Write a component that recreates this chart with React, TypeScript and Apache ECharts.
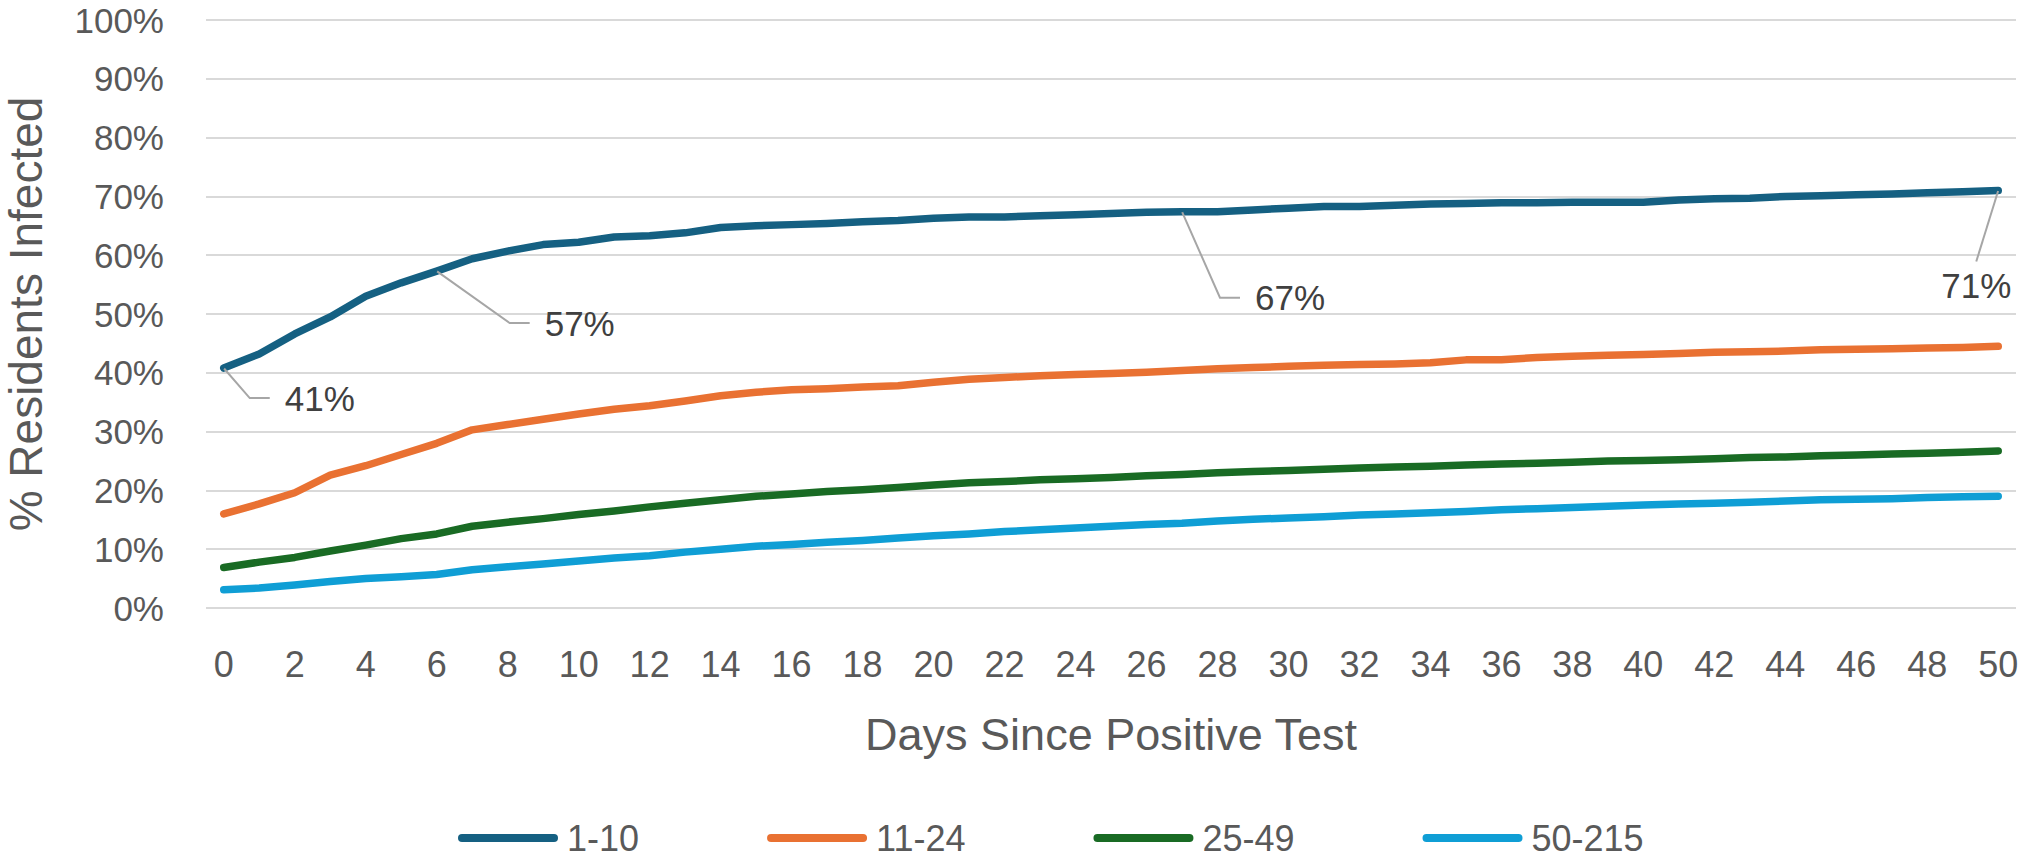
import { useEffect, useRef } from "react";
import * as echarts from "echarts";

const days = [
  "0", "1", "2", "3", "4", "5", "6", "7", "8", "9", "10", "11", "12", "13", "14", "15", "16",
  "17", "18", "19", "20", "21", "22", "23", "24", "25", "26", "27", "28", "29", "30", "31", "32",
  "33", "34", "35", "36", "37", "38", "39", "40", "41", "42", "43", "44", "45", "46", "47", "48",
  "49", "50",
];

const seriesNames = ["1-10", "11-24", "25-49", "50-215"];
const seriesColors = ["#156082", "#E97132", "#196B24", "#0F9ED5"];

const size1to10 = [
  40.8, 43.2, 46.6, 49.5, 53.0, 55.3, 57.3, 59.4, 60.7, 61.8, 62.2, 63.1, 63.3, 63.8, 64.7, 65.0,
  65.2, 65.4, 65.7, 65.9, 66.3, 66.5, 66.5, 66.7, 66.9, 67.1, 67.3, 67.4, 67.4, 67.7, 68.0, 68.3,
  68.3, 68.5, 68.7, 68.8, 68.9, 68.9, 69.0, 69.0, 69.0, 69.4, 69.6, 69.7, 70.0, 70.1, 70.3, 70.4,
  70.6, 70.8, 71.0,
];
const size11to24 = [
  16.0, 17.7, 19.6, 22.6, 24.2, 26.1, 28.0, 30.3, 31.2, 32.1, 33.0, 33.8, 34.4, 35.2, 36.1, 36.7,
  37.1, 37.3, 37.6, 37.8, 38.4, 38.9, 39.2, 39.5, 39.7, 39.9, 40.1, 40.4, 40.7, 40.9, 41.1, 41.3,
  41.4, 41.5, 41.7, 42.2, 42.2, 42.6, 42.8, 43.0, 43.1, 43.3, 43.5, 43.6, 43.7, 43.9, 44.0, 44.1,
  44.2, 44.3, 44.5,
];
const size25to49 = [
  6.9, 7.8, 8.6, 9.7, 10.7, 11.8, 12.6, 13.9, 14.6, 15.2, 15.9, 16.5, 17.2, 17.8, 18.4, 19.0,
  19.4, 19.8, 20.1, 20.5, 20.9, 21.3, 21.5, 21.8, 22.0, 22.2, 22.5, 22.7, 23.0, 23.2, 23.4, 23.6,
  23.8, 24.0, 24.1, 24.3, 24.5, 24.6, 24.8, 25.0, 25.1, 25.2, 25.4, 25.6, 25.7, 25.9, 26.0, 26.2,
  26.3, 26.5, 26.7,
];
const size50to215 = [
  3.1, 3.4, 3.9, 4.5, 5.0, 5.3, 5.7, 6.5, 7.0, 7.5, 8.0, 8.5, 8.9, 9.5, 10.0, 10.5, 10.8, 11.2,
  11.5, 11.9, 12.3, 12.6, 13.0, 13.3, 13.6, 13.9, 14.2, 14.4, 14.8, 15.1, 15.3, 15.5, 15.8, 16.0,
  16.2, 16.4, 16.7, 16.9, 17.1, 17.3, 17.5, 17.7, 17.8, 18.0, 18.2, 18.4, 18.5, 18.6, 18.8, 18.9,
  19.0,
];

const seriesValues = [size1to10, size11to24, size25to49, size50to215];

// Days of the first series that carry a data label
const labeledDays = [0, 6, 27, 50];

const FONT = "'Liberation Sans', Arial, sans-serif";

export default function App() {
  const ref = useRef<HTMLDivElement>(null);

  useEffect(() => {
    if (!ref.current) return;
    const chart = echarts.init(ref.current, null, { renderer: "svg" });

    const labelPlacement: Record<number, { dx: number; dy: number; align: string }> = {
      0: { dx: 46, dy: 30, align: "left" },
      6: { dx: 93, dy: 52, align: "left" },
      27: { dx: 58, dy: 86, align: "left" },
      50: { dx: -22, dy: 95, align: "center" },
    };

    const series = seriesValues.map((vals, si) => {
      const data =
        si === 0
          ? vals.map((v, i) =>
              labeledDays.includes(i)
                ? {
                    value: v,
                    label: {
                      show: true,
                      padding: i === 50 ? [13, 0, 0, 0] : [0, 0, 0, 15],
                    },
                    labelLine: i === 50 ? { length2: 0 } : { length2: 20 },
                  }
                : v
            )
          : vals;
      return {
        name: seriesNames[si],
        type: "line",
        data,
        symbol: "circle",
        symbolSize: 1,
        showSymbol: true,
        z: 10 - si,
        itemStyle: { color: seriesColors[si] },
        lineStyle: { color: seriesColors[si], width: 7.5, cap: "round", join: "round" },
        emphasis: { disabled: true },
        label: {
          show: false,
          formatter: (p: any) => Math.round(p.value) + "%",
          fontSize: 35,
          fontFamily: FONT,
          color: "#404040",
          backgroundColor: "transparent",
        },
        labelLine: {
          show: true,
          length2: 20,
          minTurnAngle: 60,
          lineStyle: { color: "#A6A6A6", width: 2 },
        },
        labelLayout:
          si === 0
            ? (params: any) => {
                const o = labelPlacement[params.dataIndex];
                if (!o) return {};
                const cx = params.rect.x + params.rect.width / 2;
                const cy = params.rect.y + params.rect.height / 2;
                return { x: cx + o.dx, y: cy + o.dy, align: o.align, verticalAlign: "middle" };
              }
            : undefined,
      };
    });

    chart.setOption({
      animation: false,
      textStyle: { fontFamily: FONT },
      grid: {
        left: 206,
        right: 7,
        top: 20,
        bottom: 251,
        containLabel: false,
        outerBoundsMode: "none",
      },
      legend: {
        data: seriesNames,
        left: 458,
        top: 820,
        padding: 0,
        icon: "path://M4,0L96,0A4,4,0,0,1,96,8L4,8A4,4,0,0,1,4,0Z",
        itemWidth: 100,
        itemHeight: 8,
        itemGap: 128,
        itemStyle: { borderWidth: 0 },
        textStyle: {
          fontSize: 36,
          lineHeight: 26,
          color: "#595959",
          fontFamily: FONT,
          padding: [0, 0, 0, 4],
        },
        selectedMode: false,
      },
      xAxis: {
        type: "category",
        data: days,
        boundaryGap: true,
        axisLine: { show: false },
        axisTick: { show: false },
        splitLine: { show: false },
        axisLabel: {
          interval: 1,
          fontSize: 36,
          lineHeight: 36,
          color: "#595959",
          fontFamily: FONT,
          margin: 38,
        },
        name: "Days Since Positive Test",
        nameLocation: "middle",
        nameGap: 104,
        nameTextStyle: { fontSize: 45, lineHeight: 45, color: "#595959", fontFamily: FONT },
      },
      yAxis: {
        type: "value",
        min: 0,
        max: 100,
        interval: 10,
        axisLine: { show: false },
        axisTick: { show: false },
        splitLine: { lineStyle: { color: "#D9D9D9", width: 2 } },
        axisLabel: {
          formatter: "{value}%",
          fontSize: 35,
          lineHeight: 28,
          color: "#595959",
          fontFamily: FONT,
          margin: 42,
        },
        name: "% Residents Infected",
        nameLocation: "middle",
        nameGap: 163,
        nameTextStyle: { fontSize: 46, lineHeight: 34, color: "#595959", fontFamily: FONT },
      },
      series,
    });

    return () => chart.dispose();
  }, []);

  return (
    <div
      ref={ref}
      style={{ position: "fixed", left: 0, top: 0, width: 2023, height: 859, background: "#fff" }}
    />
  );
}
